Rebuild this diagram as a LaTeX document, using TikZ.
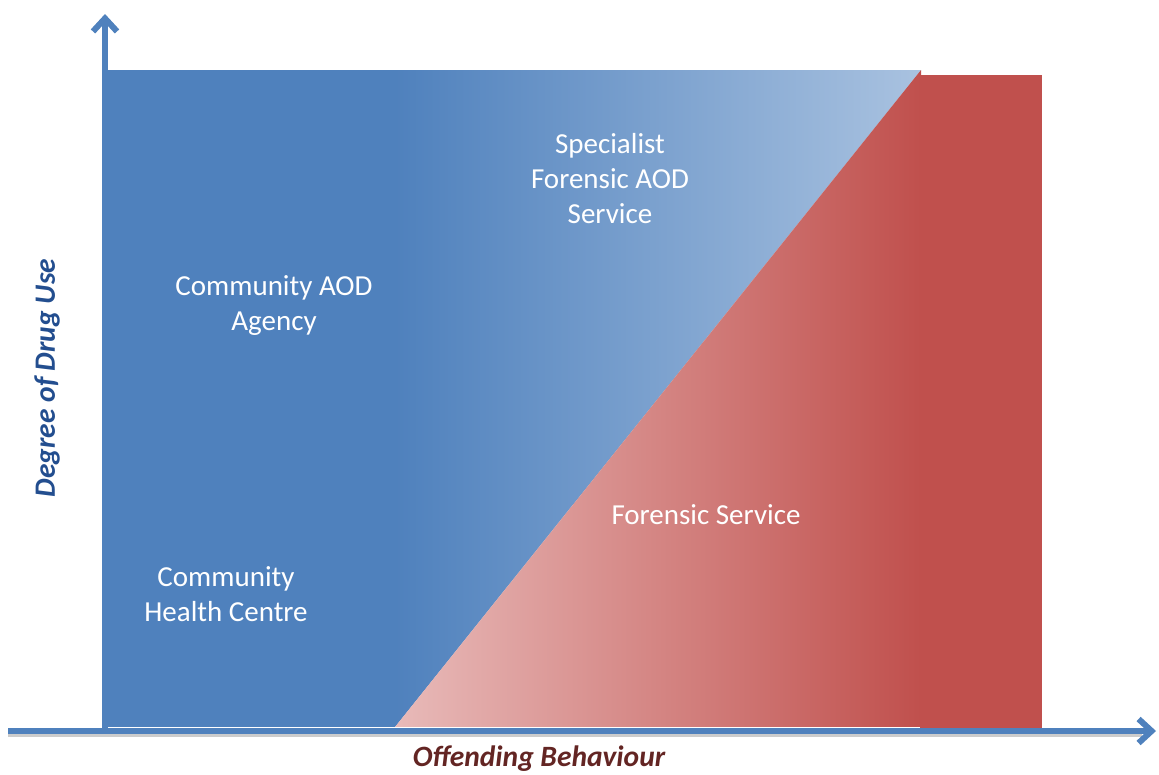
\documentclass[tikz,border=0pt]{standalone}
\usepackage{fontspec}
\setmainfont{Carlito}
\usetikzlibrary{arrows.meta}
\definecolor{cblue}{HTML}{4F81BD}
\definecolor{clightblue}{HTML}{A9C2E0}
\definecolor{cred}{HTML}{C0504D}
\definecolor{cpink}{HTML}{E8BAB9}
\definecolor{ylab}{HTML}{234E8F}
\definecolor{xlab}{HTML}{632523}
\tikzset{
  lab/.style={text=white, align=center, font=\fontsize{29}{35}\selectfont},
  axislab/.style={font=\fontsize{29.5}{34}\selectfont\bfseries\itshape},
  axis/.style={draw=cblue, line width=6pt, -{Straight Barb[length=13pt,width=24pt]}},
  axshadow/.style={draw=black!20, line width=4pt},
}
\begin{document}
\begin{tikzpicture}[x=1pt,y=-1pt]
\useasboundingbox (0,0) rectangle (1159,774);
% regions
\fill[cblue] (102,70) rectangle (395,727);
\shade[left color=cblue, right color=clightblue] (395,70) -- (921,70) -- (395,727) -- cycle;
\shade[left color=cpink, right color=cred] (395,727) -- (921,727) -- (921,70) -- cycle;
\fill[cred] (920,75) rectangle (1042,733);
% coordinates
\coordinate (xs) at (8,731);
\coordinate (xe) at (1156,731);
\coordinate (ys) at (105,733);
\coordinate (ye) at (105,14);
\coordinate (wl) at (108,727.5);
\coordinate (wr) at (920,727.5);
\draw[white, line width=1.5pt] (wl) -- (wr);
% axes shadow
\draw[axshadow] ([yshift=-4pt]xs) -- ([yshift=-4pt,xshift=-14pt]xe);
% axes
\draw[axis] (xs) -- (xe);
\draw[axis] (ys) -- (ye);
% labels
\node[lab] (spec) at (610,179) {Specialist\\Forensic AOD\\Service};
\node[lab] (comm) at (274,306) {Community AOD\\Agency};
\node[lab] (chc) at (226,594) {Community\\Health Centre};
\node[lab] (fs) at (706,515) {Forensic Service};
\node[axislab, text=ylab, rotate=90] (ylabel) at (47,378) {Degree of Drug Use};
\node[axislab, text=xlab] (xlabel) at (539,759) {Offending Behaviour};
\end{tikzpicture}
\end{document}
